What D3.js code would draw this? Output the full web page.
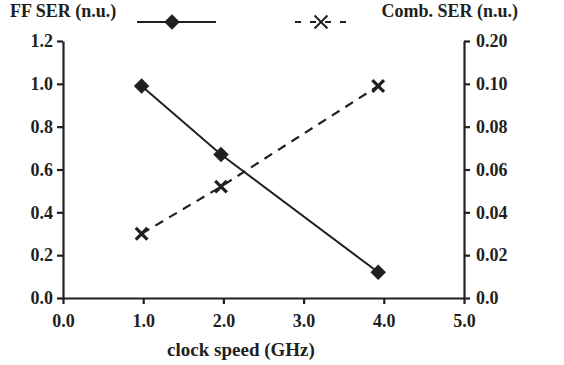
<!DOCTYPE html>
<html>
<head>
<meta charset="utf-8">
<script src="https://cdn.jsdelivr.net/npm/d3@7"></script>
<style>
  body { margin: 0; background: #fff; }
  text { font-family: "Liberation Serif", "Times New Roman", serif; font-weight: bold; fill: #231f20; }
</style>
</head>
<body>
<svg id="chart"></svg>
<script>
// data
const clockSpeed = [0.98, 1.97, 3.93];
const ffSer = [0.99, 0.67, 0.12];
const combSer = [0.030, 0.052, 0.099];

const xTicks = [0, 1, 2, 3, 4, 5];
const leftTicks = [0, 0.2, 0.4, 0.6, 0.8, 1.0, 1.2];
const rightTicks = [0, 0.02, 0.04, 0.06, 0.08, 0.10, 0.12];
const rightTickLabels = ["0.0", "0.02", "0.04", "0.06", "0.08", "0.10", "0.20"];

const width = 564, height = 365;
const marginLeft = 63, marginRight = 100, marginTop = 41, marginBottom = 67;
const ink = "#231f20";

const svg = d3.select("#chart").attr("width", width).attr("height", height);

const x = d3.scaleLinear().domain([0, 5]).range([marginLeft, width - marginRight]);
const yL = d3.scaleLinear().domain([0, 1.2]).range([height - marginBottom, marginTop]);
const yR = d3.scaleLinear().domain([0, 0.12]).range([height - marginBottom, marginTop]);

function styleAxis(g) {
  g.select(".domain").attr("stroke", ink).attr("stroke-width", 2.2);
  g.selectAll(".tick line").attr("stroke", ink).attr("stroke-width", 2.2);
  g.selectAll(".tick text").attr("font-size", 18).attr("fill", ink)
    .attr("font-family", "Liberation Serif").attr("font-weight", "bold");
}

// x axis
svg.append("g")
  .attr("transform", `translate(0,${height - marginBottom})`)
  .call(d3.axisBottom(x).tickValues(xTicks).tickFormat(d3.format(".1f")).tickSize(6).tickSizeOuter(0).tickPadding(10))
  .call(styleAxis);

// left axis
svg.append("g")
  .attr("transform", `translate(${marginLeft},0)`)
  .call(d3.axisLeft(yL).tickValues(leftTicks).tickFormat(d3.format(".1f")).tickSize(6).tickSizeOuter(0).tickPadding(4))
  .call(styleAxis);

// right axis
svg.append("g")
  .attr("transform", `translate(${width - marginRight},0)`)
  .call(d3.axisRight(yR).tickValues(rightTicks).tickFormat((d, i) => rightTickLabels[i]).tickSize(6).tickSizeOuter(0).tickPadding(6))
  .call(styleAxis);

// x title
svg.append("text")
  .attr("x", 241).attr("y", 356)
  .attr("text-anchor", "middle")
  .attr("font-size", 19)
  .text("clock speed (GHz)");

const ffData = clockSpeed.map((c, i) => [c, ffSer[i]]);
const combData = clockSpeed.map((c, i) => [c, combSer[i]]);

// lines
svg.append("path")
  .datum(ffData)
  .attr("fill", "none").attr("stroke", ink).attr("stroke-width", 2)
  .attr("d", d3.line().x(d => x(d[0])).y(d => yL(d[1])));

svg.append("path")
  .datum(combData)
  .attr("fill", "none").attr("stroke", ink).attr("stroke-width", 2.2)
  .attr("stroke-dasharray", "9,7")
  .attr("d", d3.line().x(d => x(d[0])).y(d => yR(d[1])));

// markers
const diamond = d3.symbol().type(d3.symbolSquare).size(120);
const cross = d3.symbol().type(d3.symbolX).size(90);

svg.append("g").selectAll("path")
  .data(ffData)
  .join("path")
  .attr("transform", d => `translate(${x(d[0])},${yL(d[1])}) rotate(45)`)
  .attr("d", diamond)
  .attr("fill", ink);

svg.append("g").selectAll("path")
  .data(combData)
  .join("path")
  .attr("transform", d => `translate(${x(d[0])},${yR(d[1])})`)
  .attr("d", cross)
  .attr("fill", "none").attr("stroke", ink).attr("stroke-width", 3.2);

// legend
const legY = 22;
svg.append("text").attr("x", 10).attr("y", 17).attr("font-size", 18).text("FF SER (n.u.)");
svg.append("line").attr("x1", 137).attr("x2", 216).attr("y1", legY).attr("y2", legY)
  .attr("stroke", ink).attr("stroke-width", 2);
svg.append("path").attr("transform", `translate(172,${legY}) rotate(45)`)
  .attr("d", diamond).attr("fill", ink);

svg.append("line").attr("x1", 295).attr("x2", 350).attr("y1", legY).attr("y2", legY)
  .attr("stroke", ink).attr("stroke-width", 2).attr("stroke-dasharray", "6,9");
svg.append("path").attr("transform", `translate(321,${legY})`)
  .attr("d", d3.symbol().type(d3.symbolX).size(110))
  .attr("fill", "none").attr("stroke", ink).attr("stroke-width", 2);
svg.append("text").attr("x", 518).attr("y", 17).attr("text-anchor", "end").attr("font-size", 18).text("Comb. SER (n.u.)");
</script>
</body>
</html>
